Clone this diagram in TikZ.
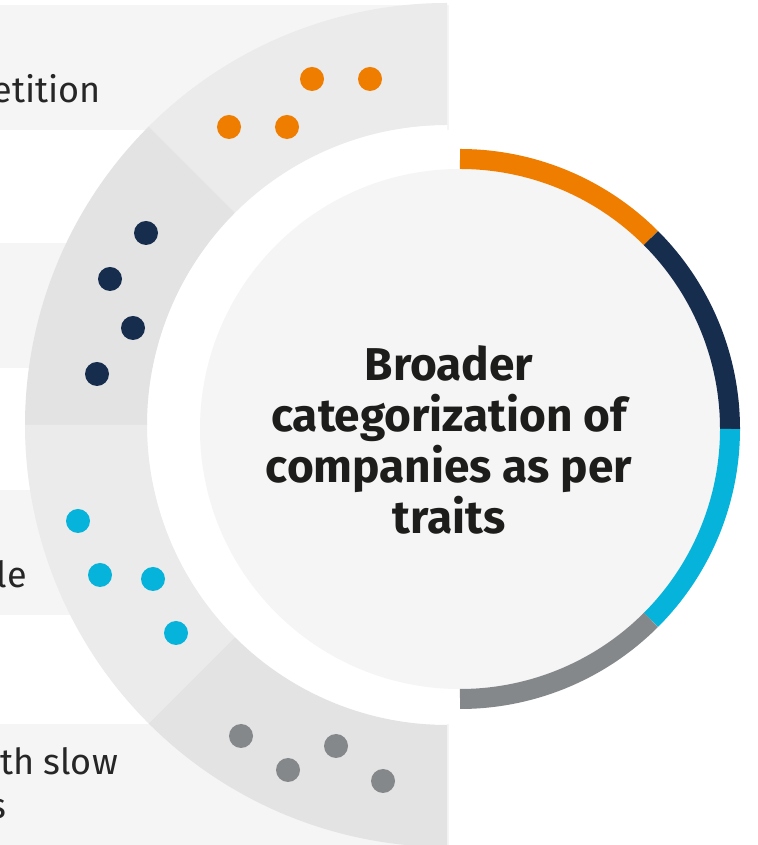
\documentclass[tikz,border=0pt]{standalone}
\usepackage{fontspec}
\setmainfont{Fira Sans}
\definecolor{bandgray}{HTML}{F5F5F5}
\definecolor{segA}{HTML}{EBEBEB}
\definecolor{segB}{HTML}{E3E3E3}
\definecolor{hubgray}{HTML}{F5F5F5}
\definecolor{corange}{HTML}{EF7D00}
\definecolor{cnavy}{HTML}{172D4E}
\definecolor{ccyan}{HTML}{06B3DB}
\definecolor{cgray}{HTML}{85888A}
\definecolor{txtdark}{HTML}{1D1D1B}
\definecolor{txtlabel}{HTML}{262626}
\tikzset{
  dot/.style={circle,fill=#1,minimum size=24pt,inner sep=0pt},
  sidelabel/.style={anchor=base east,inner sep=0pt,text=txtlabel,
    font=\fontsize{36}{43}\selectfont},
  band/.style={fill=bandgray},
}
\begin{document}
\begin{tikzpicture}[x=1pt,y=1pt]
\useasboundingbox (0,0) rectangle (757,845);
\clip (0,0) rectangle (757,845);
\fill[white] (0,0) rectangle (757,845);

% label bands behind the ring
\fill[band] (0,715) rectangle (449,840);
\fill[band] (0,477) rectangle (449,602);
\fill[band] (0,230) rectangle (449,355);
\fill[band] (0,0) rectangle (449,121);

% labels (partly outside the frame)
\node[sidelabel] (l1) at (101,742) {etition};
\node[sidelabel] (l3) at (27,257) {le};
\node[sidelabel] (l4) at (118,70) {th slow};
\node[sidelabel] (l4b) at (7,27) {s};

% outer half ring in four sectors
\begin{scope}[shift={(447,420)}]
  \fill[white] (90:300) arc[start angle=90,end angle=270,radius=300] -- cycle;
  \fill[segA] (90:422) arc[start angle=90,end angle=135,radius=422]
    -- (135:300) arc[start angle=135,end angle=90,radius=300] -- cycle;
  \fill[segB] (135:422) arc[start angle=135,end angle=180,radius=422]
    -- (180:300) arc[start angle=180,end angle=135,radius=300] -- cycle;
  \fill[segA] (180:422) arc[start angle=180,end angle=225,radius=422]
    -- (225:300) arc[start angle=225,end angle=180,radius=300] -- cycle;
  \fill[segB] (225:422) arc[start angle=225,end angle=270,radius=422]
    -- (270:300) arc[start angle=270,end angle=225,radius=300] -- cycle;
\end{scope}

% dots in each sector
\node[dot=corange] (o1) at (312,766) {};
\node[dot=corange] (o2) at (370,766) {};
\node[dot=corange] (o3) at (229,718) {};
\node[dot=corange] (o4) at (287,718) {};
\node[dot=cnavy] (n1) at (146,612) {};
\node[dot=cnavy] (n2) at (110,566) {};
\node[dot=cnavy] (n3) at (133,517) {};
\node[dot=cnavy] (n4) at (97,471) {};
\node[dot=ccyan] (c1) at (78,324) {};
\node[dot=ccyan] (c2) at (100,270) {};
\node[dot=ccyan] (c3) at (153,266) {};
\node[dot=ccyan] (c4) at (176,212) {};
\node[dot=cgray] (g1) at (241,109) {};
\node[dot=cgray] (g2) at (288,75) {};
\node[dot=cgray] (g3) at (336,99) {};
\node[dot=cgray] (g4) at (383,64) {};

% central hub with coloured rim
\begin{scope}[shift={(460,416)}]
  \fill[hubgray] (0,0) circle[radius=260];
  \draw[corange,line width=20pt] (90:270) arc[start angle=90,end angle=45,radius=270];
  \draw[cnavy,line width=20pt] (45:270) arc[start angle=45,end angle=0,radius=270];
  \draw[ccyan,line width=20pt] (0:270) arc[start angle=0,end angle=-45,radius=270];
  \draw[cgray,line width=20pt] (-45:270) arc[start angle=-45,end angle=-90,radius=270];
\end{scope}

\node[align=center,text=txtdark,inner sep=0pt,
  font=\bfseries\fontsize{46}{51}\selectfont] (hub) at (449,405)
  {Broader\\categorization of\\companies as per\\traits};
\end{tikzpicture}
\end{document}
